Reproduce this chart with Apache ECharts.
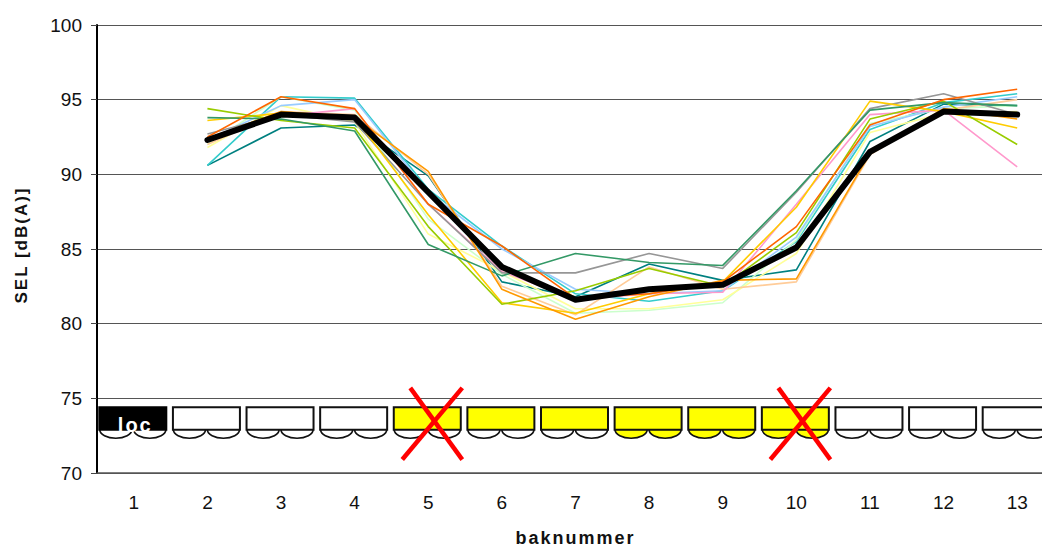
<!DOCTYPE html>
<html>
<head>
<meta charset="utf-8">
<style>
html,body{margin:0;padding:0;background:#fff;overflow:hidden}
#c{width:1042px;height:550px}
#c text[style*="bold"]{letter-spacing:2px}
</style>
<script src="https://cdn.jsdelivr.net/npm/echarts@6/dist/echarts.min.js"></script>
</head>
<body>
<div id="c"></div>
<script>
const categories = ['1','2','3','4','5','6','7','8','9','10','11','12','13'];
const tealDark   = [null,90.6,93.1,93.3,89.9,82.8,81.8,84.0,82.9,83.6,92.2,94.7,94.6];
const tealLight  = [null,90.6,95.2,95.1,89.0,85.2,82.0,81.5,82.2,85.5,93.0,94.8,95.4];
const redOrange  = [null,92.5,95.2,94.4,88.0,85.2,81.7,82.0,82.8,86.5,93.3,95.0,95.7];
const seaGreen   = [null,93.8,93.7,92.9,85.3,83.2,84.7,84.1,83.9,88.9,94.3,94.8,94.6];
const limeGreen  = [null,94.4,93.6,93.1,86.5,81.3,82.2,83.7,82.5,86.1,93.7,94.9,92.0];
const gold       = [null,93.6,94.1,93.8,87.3,81.4,80.7,82.0,82.8,87.8,94.9,94.2,93.1];
const grey       = [null,92.7,94.0,93.5,88.0,83.4,83.4,84.7,83.7,88.8,94.4,95.4,94.0];
const pink       = [null,92.2,93.9,94.4,88.0,83.5,81.6,82.0,82.1,88.0,94.0,94.3,90.5];
const lightBlue  = [null,92.3,94.6,95.0,88.8,85.0,82.3,82.0,82.2,85.8,93.2,94.5,95.2];
const peach      = [null,92.0,94.2,94.0,90.0,82.5,80.6,83.8,82.3,82.8,91.3,94.3,95.0];
const orange     = [null,92.4,94.2,93.8,90.2,82.3,80.3,81.8,82.9,83.0,91.4,94.4,93.7];
const paleYellow = [null,91.8,94.6,93.5,86.0,83.5,81.0,81.0,81.6,84.7,92.8,94.1,94.2];
const paleGreen  = [null,92.0,95.2,94.3,87.0,83.3,80.7,80.9,81.4,85.6,93.4,94.4,94.6];
const average    = [null,92.3,94.0,93.8,88.8,83.8,81.6,82.3,82.6,85.1,91.5,94.2,94.0];

const thinSeries = [
  ['tealDark',tealDark,'#008080'],['tealLight',tealLight,'#33CCCC'],['paleGreen',paleGreen,'#CCFFCC'],
  ['paleYellow',paleYellow,'#FFFF99'],['lightBlue',lightBlue,'#99CCFF'],['peach',peach,'#FFCC99'],
  ['pink',pink,'#FF99CC'],['grey',grey,'#969696'],['gold',gold,'#FFCC00'],['limeGreen',limeGreen,'#99CC00'],
  ['seaGreen',seaGreen,'#339966'],['orange',orange,'#FF9900'],['redOrange',redOrange,'#FF6600']
];

const carFill   = ['#000000','#ffffff','#ffffff','#ffffff','#ffff00','#ffff00','#ffff00','#ffff00','#ffff00','#ffff00','#ffffff','#ffffff','#ffffff'];
const wheelFill = ['#ffffff','#ffffff','#ffffff','#ffffff','#ffffff','#ffffff','#ffffff','#ffff00','#ffff00','#ffff00','#ffffff','#ffffff','#ffffff'];
const carTop = 74.4, carBottom = 72.9;
const crossedCars = ['5','10'];
const crossTop = 75.7, crossBottom = 70.9;

function renderCar(params, api){
  const i = api.value(0);
  const top = api.coord([i, carTop]);
  const bot = api.coord([i, carBottom]);
  const cx = top[0] - 1, w = 67, l = cx - w/2, r = cx + w/2, y0 = top[1], y1 = bot[1];
  const stroke = '#111';
  const wheel = (c) => ({type:'ellipse',shape:{cx:c,cy:y1,rx:16,ry:8.5},
    style:{fill:wheelFill[i],stroke:stroke,lineWidth:1.6}});
  const children = [
    wheel(cx-17), wheel(cx+17),
    {type:'rect',shape:{x:l,y:y0,width:w,height:y1-y0},
     style:{fill:carFill[i],stroke:i===0?'#000':stroke,lineWidth:2}}
  ];
  if(i===0){
    children.push({type:'text',style:{x:cx+2.5,y:y1-5,text:'loc',fill:'#fff',
      font:'bold 20px "Liberation Sans",Arial,sans-serif',align:'center',verticalAlign:'middle'}});
  }
  return {type:'group',children};
}
function renderCross(params, api){
  const i = api.value(0);
  const top = api.coord([i, crossTop]);
  const bot = api.coord([i, crossBottom]);
  const c = top[0];
  const st = {stroke:'#ff0000',lineWidth:4.5};
  return {type:'group',children:[
    {type:'line',shape:{x1:c-26,y1:bot[1],x2:c+34,y2:top[1]},style:st},
    {type:'line',shape:{x1:c-18,y1:top[1],x2:c+34,y2:bot[1]},style:st}
  ]};
}

const chart = echarts.init(document.getElementById('c'), null, {renderer:'svg', width:1042, height:550});
chart.setOption({
  animation:false,
  backgroundColor:'#fff',
  grid:{left:97,top:25,bottom:77,right:-12,containLabel:false,outerBoundsMode:'none'},
  tooltip:{show:false},
  xAxis:{type:'category',data:categories,boundaryGap:true,
    name:'baknummer',nameLocation:'middle',nameGap:56,
    nameTextStyle:{fontFamily:'"Liberation Sans",Arial,sans-serif',fontSize:18,fontWeight:'bold',color:'#111'},
    axisLine:{lineStyle:{color:'#555',width:1.5}},
    axisTick:{length:6,lineStyle:{color:'#222',width:1}},
    axisLabel:{fontFamily:'"Liberation Sans",Arial,sans-serif',fontSize:19,color:'#111',margin:20,interval:0},
    splitLine:{show:false}},
  yAxis:{type:'value',min:70,max:100,interval:5,
    name:'SEL [dB(A)]',nameLocation:'middle',nameGap:67,
    nameTextStyle:{fontFamily:'"Liberation Sans",Arial,sans-serif',fontSize:17,fontWeight:'bold',color:'#111',padding:[0,0,0,8]},
    axisLine:{show:true,lineStyle:{color:'#000',width:2}},
    axisTick:{show:true,length:6,lineStyle:{color:'#444',width:1}},
    axisLabel:{fontFamily:'"Liberation Sans",Arial,sans-serif',fontSize:19,color:'#111',margin:15},
    splitLine:{show:true,lineStyle:{color:'#555',width:1}}},
  series:[
    ...thinSeries.map(([name,data,color])=>({name,type:'line',data,symbol:'none',
      lineStyle:{color,width:1.6},z:3,connectNulls:false})),
    {name:'average',type:'line',data:average,symbol:'none',
      lineStyle:{color:'#000',width:6,cap:'round',join:'round'},z:4},
    {name:'cars',type:'custom',coordinateSystem:'cartesian2d',z:5,clip:false,
      data:categories.map((c,i)=>[i]),encode:{x:0},renderItem:renderCar},
    {name:'crosses',type:'custom',coordinateSystem:'cartesian2d',z:6,clip:false,
      data:crossedCars.map(c=>[categories.indexOf(c)]),encode:{x:0},renderItem:renderCross}
  ]
});
</script>
</body>
</html>
